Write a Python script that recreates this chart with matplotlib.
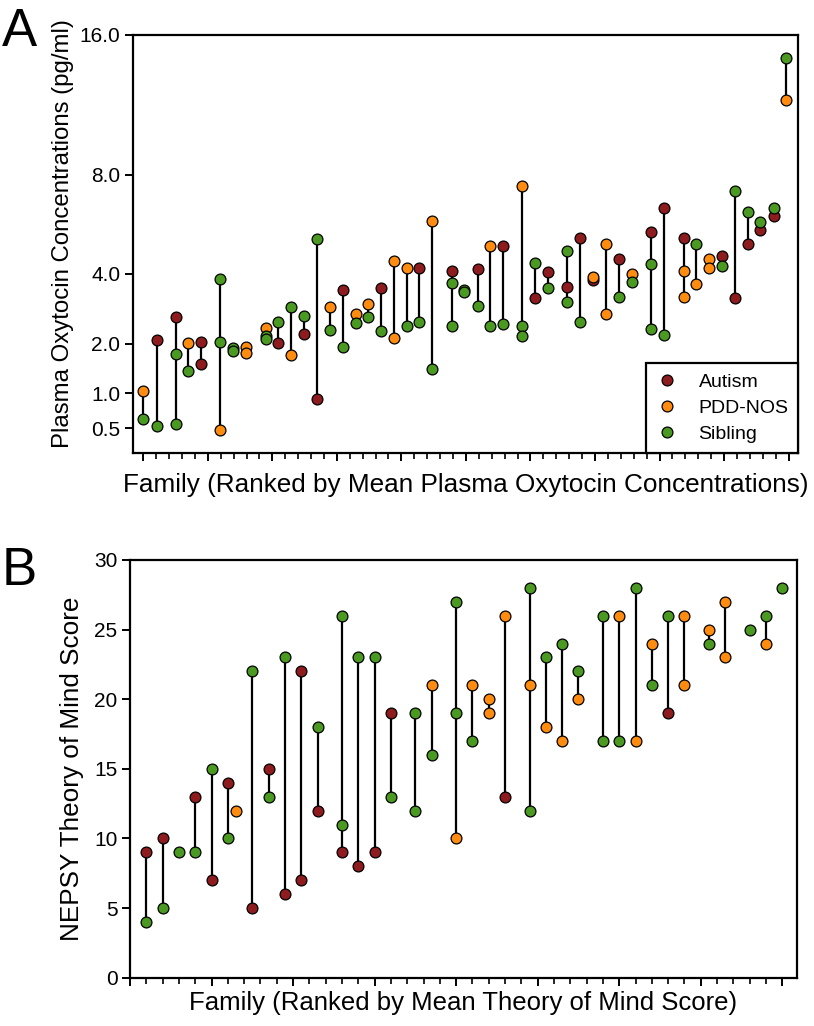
import numpy as np
import matplotlib.pyplot as plt
from matplotlib.lines import Line2D
from matplotlib.ticker import MultipleLocator

plt.rcParams['font.family'] = ['Liberation Sans', 'DejaVu Sans']

# Panel A: plasma oxytocin (pg/ml), one entry per person
# group codes: A = Autism, P = PDD-NOS, S = Sibling
a_fam = [0, 0, 1.04, 1.04, 2.51, 2.51, 2.51, 3.49, 3.49, 4.47, 4.47,
         5.94, 5.94, 5.94, 6.97, 6.97, 7.96, 7.96, 9.48, 9.48, 9.48,
         10.46, 10.46, 11.44, 11.44, 12.45, 12.45, 13.43, 13.43,
         14.46, 14.46, 15.45, 15.45, 16.46, 16.46, 17.43, 17.43,
         18.42, 18.42, 19.43, 19.43, 20.41, 20.41, 21.38, 21.38,
         22.39, 22.39, 23.89, 23.89, 23.89, 24.87, 24.87, 25.91, 25.91,
         26.86, 26.86, 27.89, 27.89, 29.36, 29.36, 29.36, 30.35, 30.35,
         31.34, 31.34, 32.85, 32.85, 32.85, 33.83, 33.83, 34.82, 34.82,
         35.85, 35.85, 36.86, 36.86, 37.86, 37.86, 39.36, 39.36, 39.36,
         40.37, 40.37, 41.87, 41.87, 41.87, 42.80, 42.80, 43.86, 43.86,
         44.84, 44.84, 45.82, 45.82, 46.83, 46.83, 47.81, 47.81,
         48.84, 48.84, 49.77, 49.77]
a_val = [1.04, 0.61, 2.09, 0.53, 2.69, 1.76, 0.55, 2.03, 1.41, 2.05, 1.55,
         3.82, 2.05, 0.48, 1.90, 1.83, 1.93, 1.79, 2.40, 2.19, 2.11,
         2.56, 2.03, 2.96, 1.74, 2.72, 2.24, 5.25, 0.90,
         2.96, 2.34, 3.48, 1.93, 2.77, 2.53, 3.05, 2.69,
         3.53, 2.31, 4.44, 2.13, 4.19, 2.45, 4.19, 2.56,
         5.96, 1.45, 4.09, 3.71, 2.45, 3.48, 3.41, 4.15, 3.00,
         4.99, 2.44, 5.00, 2.50, 7.50, 2.45, 2.20, 4.36, 3.22,
         4.05, 3.55, 4.81, 3.56, 3.10, 5.30, 2.56, 3.88, 3.80,
         5.06, 2.77, 4.51, 3.25, 3.99, 3.74, 5.53, 4.32, 2.36,
         6.52, 2.21, 5.30, 4.10, 3.25, 5.06, 3.67, 4.51, 4.19,
         4.63, 4.28, 7.25, 3.22, 6.35, 5.06, 5.91, 5.60,
         6.50, 6.18, 14.48, 11.94]
a_grp = ['P', 'S', 'A', 'S', 'A', 'S', 'S', 'P', 'S', 'A', 'A',
         'S', 'S', 'P', 'S', 'S', 'P', 'P', 'P', 'S', 'S',
         'S', 'A', 'S', 'P', 'S', 'A', 'S', 'A',
         'P', 'S', 'A', 'S', 'P', 'S', 'P', 'S',
         'A', 'S', 'P', 'P', 'P', 'S', 'A', 'S',
         'P', 'S', 'A', 'S', 'S', 'S', 'S', 'A', 'S',
         'P', 'S', 'A', 'S', 'P', 'S', 'S', 'S', 'A',
         'A', 'S', 'S', 'A', 'S', 'A', 'S', 'P', 'A',
         'P', 'P', 'A', 'S', 'P', 'S', 'A', 'S', 'S',
         'A', 'S', 'A', 'P', 'P', 'S', 'P', 'P', 'P',
         'A', 'S', 'S', 'A', 'S', 'A', 'S', 'A',
         'S', 'A', 'S', 'P']

# Panel B: NEPSY theory of mind score
b_fam = [1, 1, 2, 2, 3, 4, 4, 5, 5, 6, 6, 6.5, 7.5, 7.5, 8.5, 8.5,
         9.5, 9.5, 10.5, 10.5, 11.5, 11.5, 13, 13, 13, 14, 14, 15, 15,
         16, 16, 17.5, 17.5, 18.5, 18.5, 20, 20, 20, 21, 21, 22, 22,
         23, 23, 24.5, 24.5, 24.5, 25.5, 25.5, 26.5, 26.5, 27.5, 27.5,
         29, 29, 30, 30, 31, 31, 32, 32, 33, 33, 34, 34, 35.5, 35.5,
         36.5, 36.5, 38, 39, 39, 40]
b_val = [9, 4, 10, 5, 9, 13, 9, 15, 7, 14, 10, 12, 22, 5, 15, 13,
         23, 6, 22, 7, 18, 12, 26, 11, 9, 23, 8, 23, 9,
         19, 13, 19, 12, 21, 16, 27, 19, 10, 21, 17, 20, 19,
         26, 13, 28, 21, 12, 23, 18, 24, 17, 22, 20,
         26, 17, 26, 17, 28, 17, 24, 21, 26, 19, 26, 21, 25, 24,
         27, 23, 25, 26, 24, 28]
b_grp = ['A', 'S', 'A', 'S', 'S', 'A', 'S', 'S', 'A', 'A', 'S', 'P', 'S', 'A', 'A', 'S',
         'S', 'A', 'A', 'A', 'S', 'A', 'S', 'S', 'A', 'S', 'A', 'S', 'A',
         'A', 'S', 'S', 'S', 'P', 'S', 'S', 'S', 'P', 'P', 'S', 'P', 'P',
         'P', 'A', 'S', 'P', 'S', 'S', 'P', 'S', 'P', 'S', 'P',
         'S', 'S', 'P', 'S', 'S', 'P', 'P', 'S', 'S', 'A', 'P', 'P', 'P', 'S',
         'P', 'P', 'S', 'S', 'P', 'S']

groups = ['A', 'P', 'S']
names = {'A': 'Autism', 'P': 'PDD-NOS', 'S': 'Sibling'}
colors = {'A': '#8e1b1e', 'P': '#ff8c0f', 'S': '#4a9a22'}


def draw_panel(ax, fam, val, grp):
    fam = np.array(fam)
    val = np.array(val, dtype=float)
    grp = np.array(grp)
    # vertical line from lowest to highest member of each family
    for f in np.unique(fam):
        v = val[fam == f]
        if len(v) > 1:
            ax.plot([f, f], [v.min(), v.max()], color='black', lw=1.6, zorder=2)
    for z, g in enumerate(groups):
        m = grp == g
        ax.plot(fam[m], val[m], 'o', ms=7.8, mfc=colors[g], mec='black',
                mew=0.9, zorder=3 + z, clip_on=False)
    for s in ax.spines.values():
        s.set_linewidth(1.6)
    ax.tick_params(axis='y', direction='out', length=6, width=1.4, labelsize=15, pad=3)
    ax.tick_params(axis='x', which='major', direction='out', length=6, width=1.4, labelbottom=False)
    ax.tick_params(axis='x', which='minor', direction='out', length=4, width=1.2)


fig = plt.figure(figsize=(8.14, 10.26), dpi=100)

# ---- A ----
axA = fig.add_axes([0.163, 0.5585, 0.8177, 0.4074])
draw_panel(axA, a_fam, a_val, a_grp)
axA.set_yscale('function', functions=(np.sqrt, np.square))
axA.set_ylim(0.25, 16)
axA.set_yticks([0.5, 1, 2, 4, 8, 16])
axA.set_yticklabels(['0.5', '1.0', '2.0', '4.0', '8.0', '16.0'])
axA.set_xlim(-0.82, 50.75)
axA.xaxis.set_major_locator(MultipleLocator(5))
axA.xaxis.set_minor_locator(MultipleLocator(1))
axA.set_ylabel('Plasma Oxytocin Concentrations (pg/ml)', fontsize=17.3)
axA.yaxis.set_label_coords(-0.088, 0.526)
axA.set_xlabel('Family (Ranked by Mean Plasma Oxytocin Concentrations)', fontsize=18.8, labelpad=7)

handles = [Line2D([], [], ls='none', marker='o', ms=7.8, mfc=colors[g], mec='black', mew=0.9)
           for g in groups]
leg = axA.legend(handles, [names[g] for g in groups], loc='lower right',
                 bbox_to_anchor=(1.0, 0.0), fontsize=14, frameon=True, fancybox=False,
                 edgecolor='black', borderpad=0.5, labelspacing=0.45,
                 handletextpad=1.0, handlelength=1.2, borderaxespad=0)
leg.get_frame().set_linewidth(1.6)
leg.get_frame().set_alpha(1)

fig.text(0.002, 0.993, 'A', fontsize=38, va='top', ha='left')

# ---- B ----
axB = fig.add_axes([0.1597, 0.0471, 0.8194, 0.4071])
draw_panel(axB, b_fam, b_val, b_grp)
axB.set_ylim(0, 30)
axB.set_yticks(np.arange(0, 31, 5))
axB.set_xlim(0, 40.9)
axB.xaxis.set_major_locator(MultipleLocator(5))
axB.xaxis.set_minor_locator(MultipleLocator(1))
axB.set_ylabel('NEPSY Theory of Mind Score', fontsize=18.8)
axB.yaxis.set_label_coords(-0.069, 0.5)
axB.set_xlabel('Family (Ranked by Mean Theory of Mind Score)', fontsize=18.5, labelpad=2)

fig.text(0.002, 0.468, 'B', fontsize=38, va='top', ha='left')

fig.savefig('out.png', dpi=100)
